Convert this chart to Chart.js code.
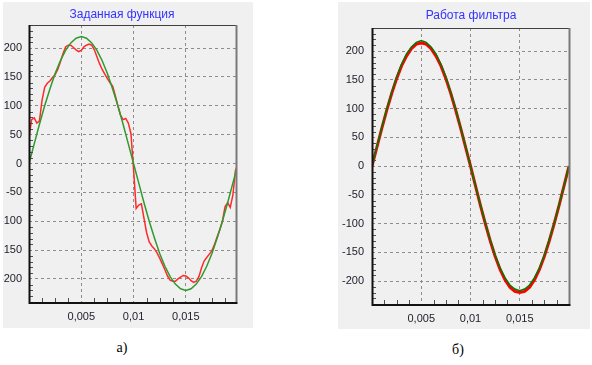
<!DOCTYPE html>
<html>
<head>
<meta charset="utf-8">
<script src="https://cdn.jsdelivr.net/npm/chart.js@4.4.1/dist/chart.umd.min.js"></script>
<style>
body { margin: 0; background: #fff; width: 592px; height: 365px; position: relative; overflow: hidden; font-family: "Liberation Sans", Arial, sans-serif; }
.panel { position: absolute; background: #f0f0f0; }
.panel canvas { position: absolute; left: 0; top: 0; }
.title { position: absolute; width: 200px; text-align: center; color: #3333ff; font-size: 12px; line-height: 14px; }
.cap { position: absolute; width: 40px; text-align: center; font-family: "Liberation Serif", "Times New Roman", serif; font-size: 14px; line-height: 16px; color: #000; }
</style>
</head>
<body>
<div class="panel" style="left:3px;top:2px;width:250px;height:326px"><canvas id="leftChart" width="250" height="326"></canvas></div>
<div class="panel" style="left:338px;top:2px;width:252px;height:327px"><canvas id="rightChart" width="252" height="327"></canvas></div>
<div class="title" style="left:22px;top:7px">Заданная функция</div>
<div class="title" style="left:371px;top:8px">Работа фильтра</div>
<div class="cap" style="left:102px;top:340px">а)</div>
<div class="cap" style="left:438px;top:342px">б)</div>
<script>
// sample steps (seconds)
const dtFine = 0.00025;
const dtCoarse = 0.0005;

// left chart: given signal (red) and its fundamental (green)
const leftRed = [45, 76, 79, 70, 74, 110, 132, 139, 143, 149, 154, 163, 176, 190, 202, 205, 205, 201, 197, 194,
  196, 202, 205, 207, 205, 197, 185, 173, 163, 155, 147, 140, 134, 118, 100, 84, 76, 78, 70, 52,
  -10, -78, -72, -70, -95, -120, -136, -143, -148, -155, -164, -174, -184, -195, -202, -204, -204, -200, -197, -194,
  -195, -198, -203, -206, -204, -196, -181, -169, -163, -157, -151, -140, -127, -115, -100, -75, -68, -76, -55, -12, 0];
const leftGreen = [0, 34, 68, 100, 129, 156, 178, 196, 209, 217, 220, 217, 209, 196, 178, 156, 129, 100, 68, 34,
  0, -34, -68, -100, -129, -156, -178, -196, -209, -217, -220, -217, -209, -196, -178, -156, -129, -100, -68, -34, 0];

// right chart: filter output (red) and reference (green)
const rightRed = [0, 33, 66, 97, 126, 152, 174, 191, 204, 212, 214, 212, 204, 191, 174, 152, 126, 97, 66, 33,
  0, -34, -68, -100, -130, -157, -180, -198, -211, -218, -220, -218, -211, -198, -180, -157, -130, -100, -68, -34, 0];
const rightGreen = [0, 34, 67, 99, 128, 155, 177, 195, 207, 215, 218, 215, 207, 195, 177, 155, 128, 99, 67, 34,
  0, -34, -67, -99, -128, -155, -177, -194, -207, -214, -217, -214, -207, -194, -177, -155, -128, -99, -67, -34, 0];

const yMin = -240, yMax = 240, yStep = 50, yMinor = 10;
const xStep = 0.005, xMinor = 0.00125;

function toPoints(values, dt) {
  return values.map((v, i) => ({ x: i * dt, y: v }));
}

// frame + little inner ticks, like the old TeeChart look
const frameAndMinor = {
  id: 'frameAndMinor',
  afterDraw(chart) {
    const { ctx, chartArea: a, scales: { x, y } } = chart;
    ctx.save();
    ctx.strokeStyle = '#505050';
    ctx.lineWidth = 1;
    ctx.beginPath();
    for (let i = 1; i * xMinor < x.max; i++) {
      if (i % 4 === 0) continue;
      const px = Math.round(x.getPixelForValue(i * xMinor)) + 0.5;
      ctx.moveTo(px, a.bottom);
      ctx.lineTo(px, a.bottom - 4);
    }
    for (let v = yMin + yMinor; v < yMax; v += yMinor) {
      if (v % yStep === 0) continue;
      const py = Math.round(y.getPixelForValue(v)) + 0.5;
      ctx.moveTo(a.left, py);
      ctx.lineTo(a.left + 4, py);
    }
    ctx.stroke();

    ctx.lineWidth = 1;
    ctx.strokeStyle = '#404040';
    ctx.beginPath();
    ctx.moveTo(a.left, a.top + 0.5);
    ctx.lineTo(a.right, a.top + 0.5);
    ctx.stroke();

    ctx.lineWidth = 2;
    ctx.strokeStyle = '#7a7a7a';
    ctx.beginPath();
    ctx.moveTo(a.right + 0.5, a.top);
    ctx.lineTo(a.right + 0.5, a.bottom);
    ctx.stroke();

    ctx.strokeStyle = '#111';
    ctx.beginPath();
    ctx.moveTo(a.left + 0.5, a.top);
    ctx.lineTo(a.left + 0.5, a.bottom + 1);
    ctx.lineTo(a.right + 1.5, a.bottom + 1);
    ctx.stroke();
    ctx.restore();
  }
};

function makeChart(id, datasets, xMax, g) {
  new Chart(document.getElementById(id), {
    type: 'line',
    data: { datasets: datasets },
    options: {
      responsive: false,
      animation: false,
      events: [],
      layout: { padding: { top: g.top, right: g.right, left: 0, bottom: 0 } },
      plugins: { legend: { display: false }, tooltip: { enabled: false }, title: { display: false } },
      elements: { point: { radius: 0 }, line: { tension: 0 } },
      scales: {
        x: {
          type: 'linear',
          min: 0,
          max: xMax,
          afterFit: s => { s.height = g.xh; },
          grid: { color: '#8c8c8c', lineWidth: 1, drawTicks: false },
          border: { display: false, dash: [3, 3] },
          ticks: {
            stepSize: xStep,
            includeBounds: false,
            padding: 8,
            maxRotation: 0,
            autoSkip: false,
            color: '#22222e',
            font: { family: 'Liberation Sans', size: 11 },
            callback: v => (v <= 0 || v >= xMax - 1e-9) ? '' : String(parseFloat(v.toFixed(4))).replace('.', ',')
          }
        },
        y: {
          min: yMin,
          max: yMax,
          afterFit: s => { s.width = g.yw; },
          grid: { color: '#8c8c8c', lineWidth: 1, drawTicks: false },
          border: { display: false, dash: [3, 3] },
          ticks: {
            stepSize: yStep,
            includeBounds: false,
            padding: g.ypad,
            color: '#22222e',
            font: { family: 'Liberation Sans', size: 11 }
          }
        }
      }
    },
    plugins: [frameAndMinor]
  });
}

makeChart('leftChart', [
  { data: toPoints(leftGreen, dtCoarse), borderColor: '#2f9a2f', borderWidth: 1.5 },
  { data: toPoints(leftRed, dtFine), borderColor: '#ff2a2a', borderWidth: 1.5 }
], 0.0198, { top: 23, right: 17, yw: 26, xh: 26, ypad: 7 });

makeChart('rightChart', [
  { data: toPoints(rightGreen, dtCoarse), borderColor: '#007a00', borderWidth: 1.5 },
  { data: toPoints(rightRed, dtCoarse), borderColor: '#ff0000', borderWidth: 3 }
], 0.02, { top: 26, right: 21, yw: 34, xh: 25, ypad: 8 });
</script>
</body>
</html>
